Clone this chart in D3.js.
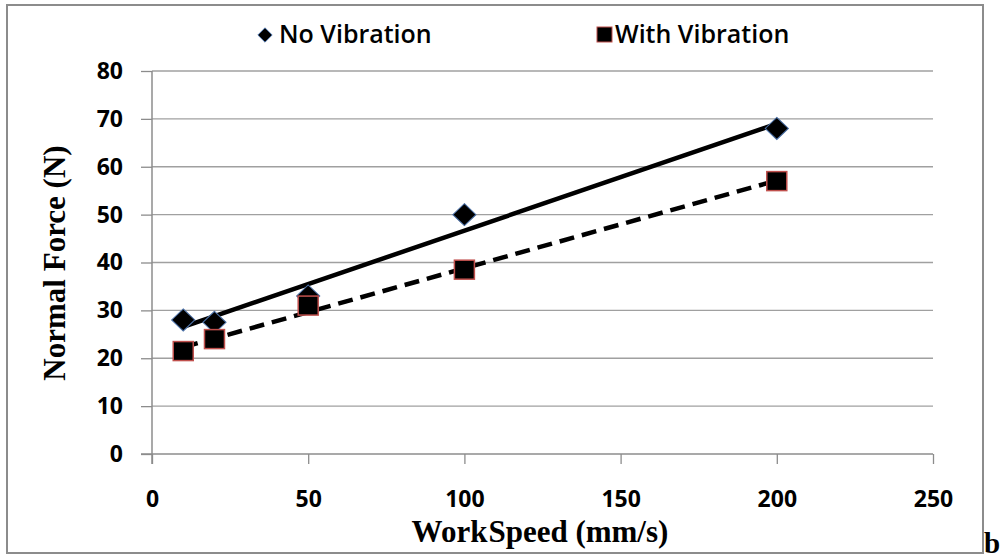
<!DOCTYPE html>
<html>
<head>
<meta charset="utf-8">
<script src="https://cdn.jsdelivr.net/npm/d3@7"></script>
<style>
  body { margin: 0; background: #fff; }
  svg { display: block; }
</style>
</head>
<body>
<script>
// values
var speeds = [10, 20, 50, 100, 200];
var noVibration = [28, 27.5, 33, 50, 68];
var withVibration = [21.5, 24, 31, 38.5, 57];
var xTicks = [0, 50, 100, 150, 200, 250];
var yTicks = [0, 10, 20, 30, 40, 50, 60, 70, 80];
var seriesNames = ["No Vibration", "With Vibration"];

var W = 1007, H = 559;
var svg = d3.select("body").append("svg").attr("width", W).attr("height", H);

// outer frame
svg.append("rect")
    .attr("x", 7).attr("y", 5).attr("width", 976).attr("height", 548)
    .attr("fill", "none").attr("stroke", "#8c8c8c").attr("stroke-width", 2);

var x = d3.scaleLinear().domain([0, 250]).range([152, 933]);
var y = d3.scaleLinear().domain([0, 80]).range([454, 71]);

var tickFont = "'Open Sans', 'Noto Sans', sans-serif";

// gridlines
svg.append("g").selectAll("line").data(yTicks.slice(1)).enter().append("line")
    .attr("x1", x(0)).attr("x2", x(250))
    .attr("y1", function(d) { return y(d); }).attr("y2", function(d) { return y(d); })
    .attr("stroke", "#a0a0a0").attr("stroke-width", 1.3);

// y axis
var yAxis = svg.append("g").attr("transform", "translate(" + x(0) + ",0)")
    .call(d3.axisLeft(y).tickValues(yTicks).tickSize(11).tickPadding(18));
// x axis
var xAxis = svg.append("g").attr("transform", "translate(0," + y(0) + ")")
    .call(d3.axisBottom(x).tickValues(xTicks).tickSize(10).tickPadding(27));

[yAxis, xAxis].forEach(function(a) {
    a.select(".domain").attr("stroke", "#8c8c8c").attr("stroke-width", 1.5);
    a.selectAll(".tick line").attr("stroke", "#8c8c8c").attr("stroke-width", 1.3);
    a.selectAll("text").attr("fill", "#000")
        .style("font-family", tickFont).style("font-size", "23px").style("font-weight", "bold");
});
yAxis.select(".domain").attr("d", "M0," + y(80) + "V" + (y(0) + 10));
xAxis.select(".domain").attr("d", "M" + (x(0) - 11) + ",0H" + x(250));

// least-squares trendlines
function fit(xs, ys) {
    var mx = d3.mean(xs), my = d3.mean(ys), sxy = 0, sxx = 0;
    xs.forEach(function(v, i) { sxy += (v - mx) * (ys[i] - my); sxx += (v - mx) * (v - mx); });
    var m = sxy / sxx;
    return function(v) { return my + m * (v - mx); };
}
var lines = [
    {f: fit(speeds, noVibration), dash: null},
    {f: fit(speeds, withVibration), dash: "15,8"}
];
lines.forEach(function(l) {
    var x0 = d3.min(speeds), x1 = d3.max(speeds);
    svg.append("line")
        .attr("x1", x(x0)).attr("y1", y(l.f(x0)))
        .attr("x2", x(x1)).attr("y2", y(l.f(x1)))
        .attr("stroke", "#000").attr("stroke-width", 4.5)
        .attr("stroke-dasharray", l.dash);
});

// markers
var diamond = d3.symbol().type(d3.symbolDiamond2).size(310);
svg.append("g").selectAll("path").data(speeds).enter().append("path")
    .attr("d", diamond)
    .attr("transform", function(d, i) { return "translate(" + x(d) + "," + y(noVibration[i]) + ") scale(1.05,1)"; })
    .attr("fill", "#000").attr("stroke", "#4a6fa5").attr("stroke-width", 1);
svg.append("g").selectAll("rect").data(speeds).enter().append("rect")
    .attr("x", function(d) { return x(d) - 10; })
    .attr("y", function(d, i) { return y(withVibration[i]) - 9.5; })
    .attr("width", 20).attr("height", 19)
    .attr("fill", "#000").attr("stroke", "#c0504d").attr("stroke-width", 1.5);

// legend
var leg = svg.append("g").style("font-family", tickFont).style("font-size", "25px").style("font-weight", "600");
leg.append("path").attr("d", d3.symbol().type(d3.symbolDiamond2).size(130))
    .attr("transform", "translate(265,35)").attr("fill", "#000").attr("stroke", "#4a6fa5");
leg.append("text").attr("x", 279).attr("y", 43).text(seriesNames[0]);
leg.append("rect").attr("x", 597).attr("y", 27).attr("width", 15).attr("height", 15)
    .attr("fill", "#000").attr("stroke", "#c0504d").attr("stroke-width", 1);
leg.append("text").attr("x", 615).attr("y", 43).text(seriesNames[1]);

// axis titles
var serif = "'Liberation Serif', 'DejaVu Serif', serif";
svg.append("text")
    .attr("transform", "translate(65,263) rotate(-90)")
    .attr("text-anchor", "middle")
    .style("font-family", serif).style("font-size", "31px").style("font-weight", "bold")
    .text("Normal Force (N)");
var xt = svg.append("text")
    .attr("x", 540).attr("y", 542)
    .attr("text-anchor", "middle")
    .style("font-family", serif).style("font-size", "31px").style("font-weight", "bold");
xt.append("tspan").text("Work");
xt.append("tspan").attr("dx", 1).text("Speed (mm/s)");
svg.append("text")
    .attr("x", 984).attr("y", 553)
    .style("font-family", serif).style("font-size", "29px").style("font-weight", "bold")
    .text("b");
</script>
</body>
</html>
